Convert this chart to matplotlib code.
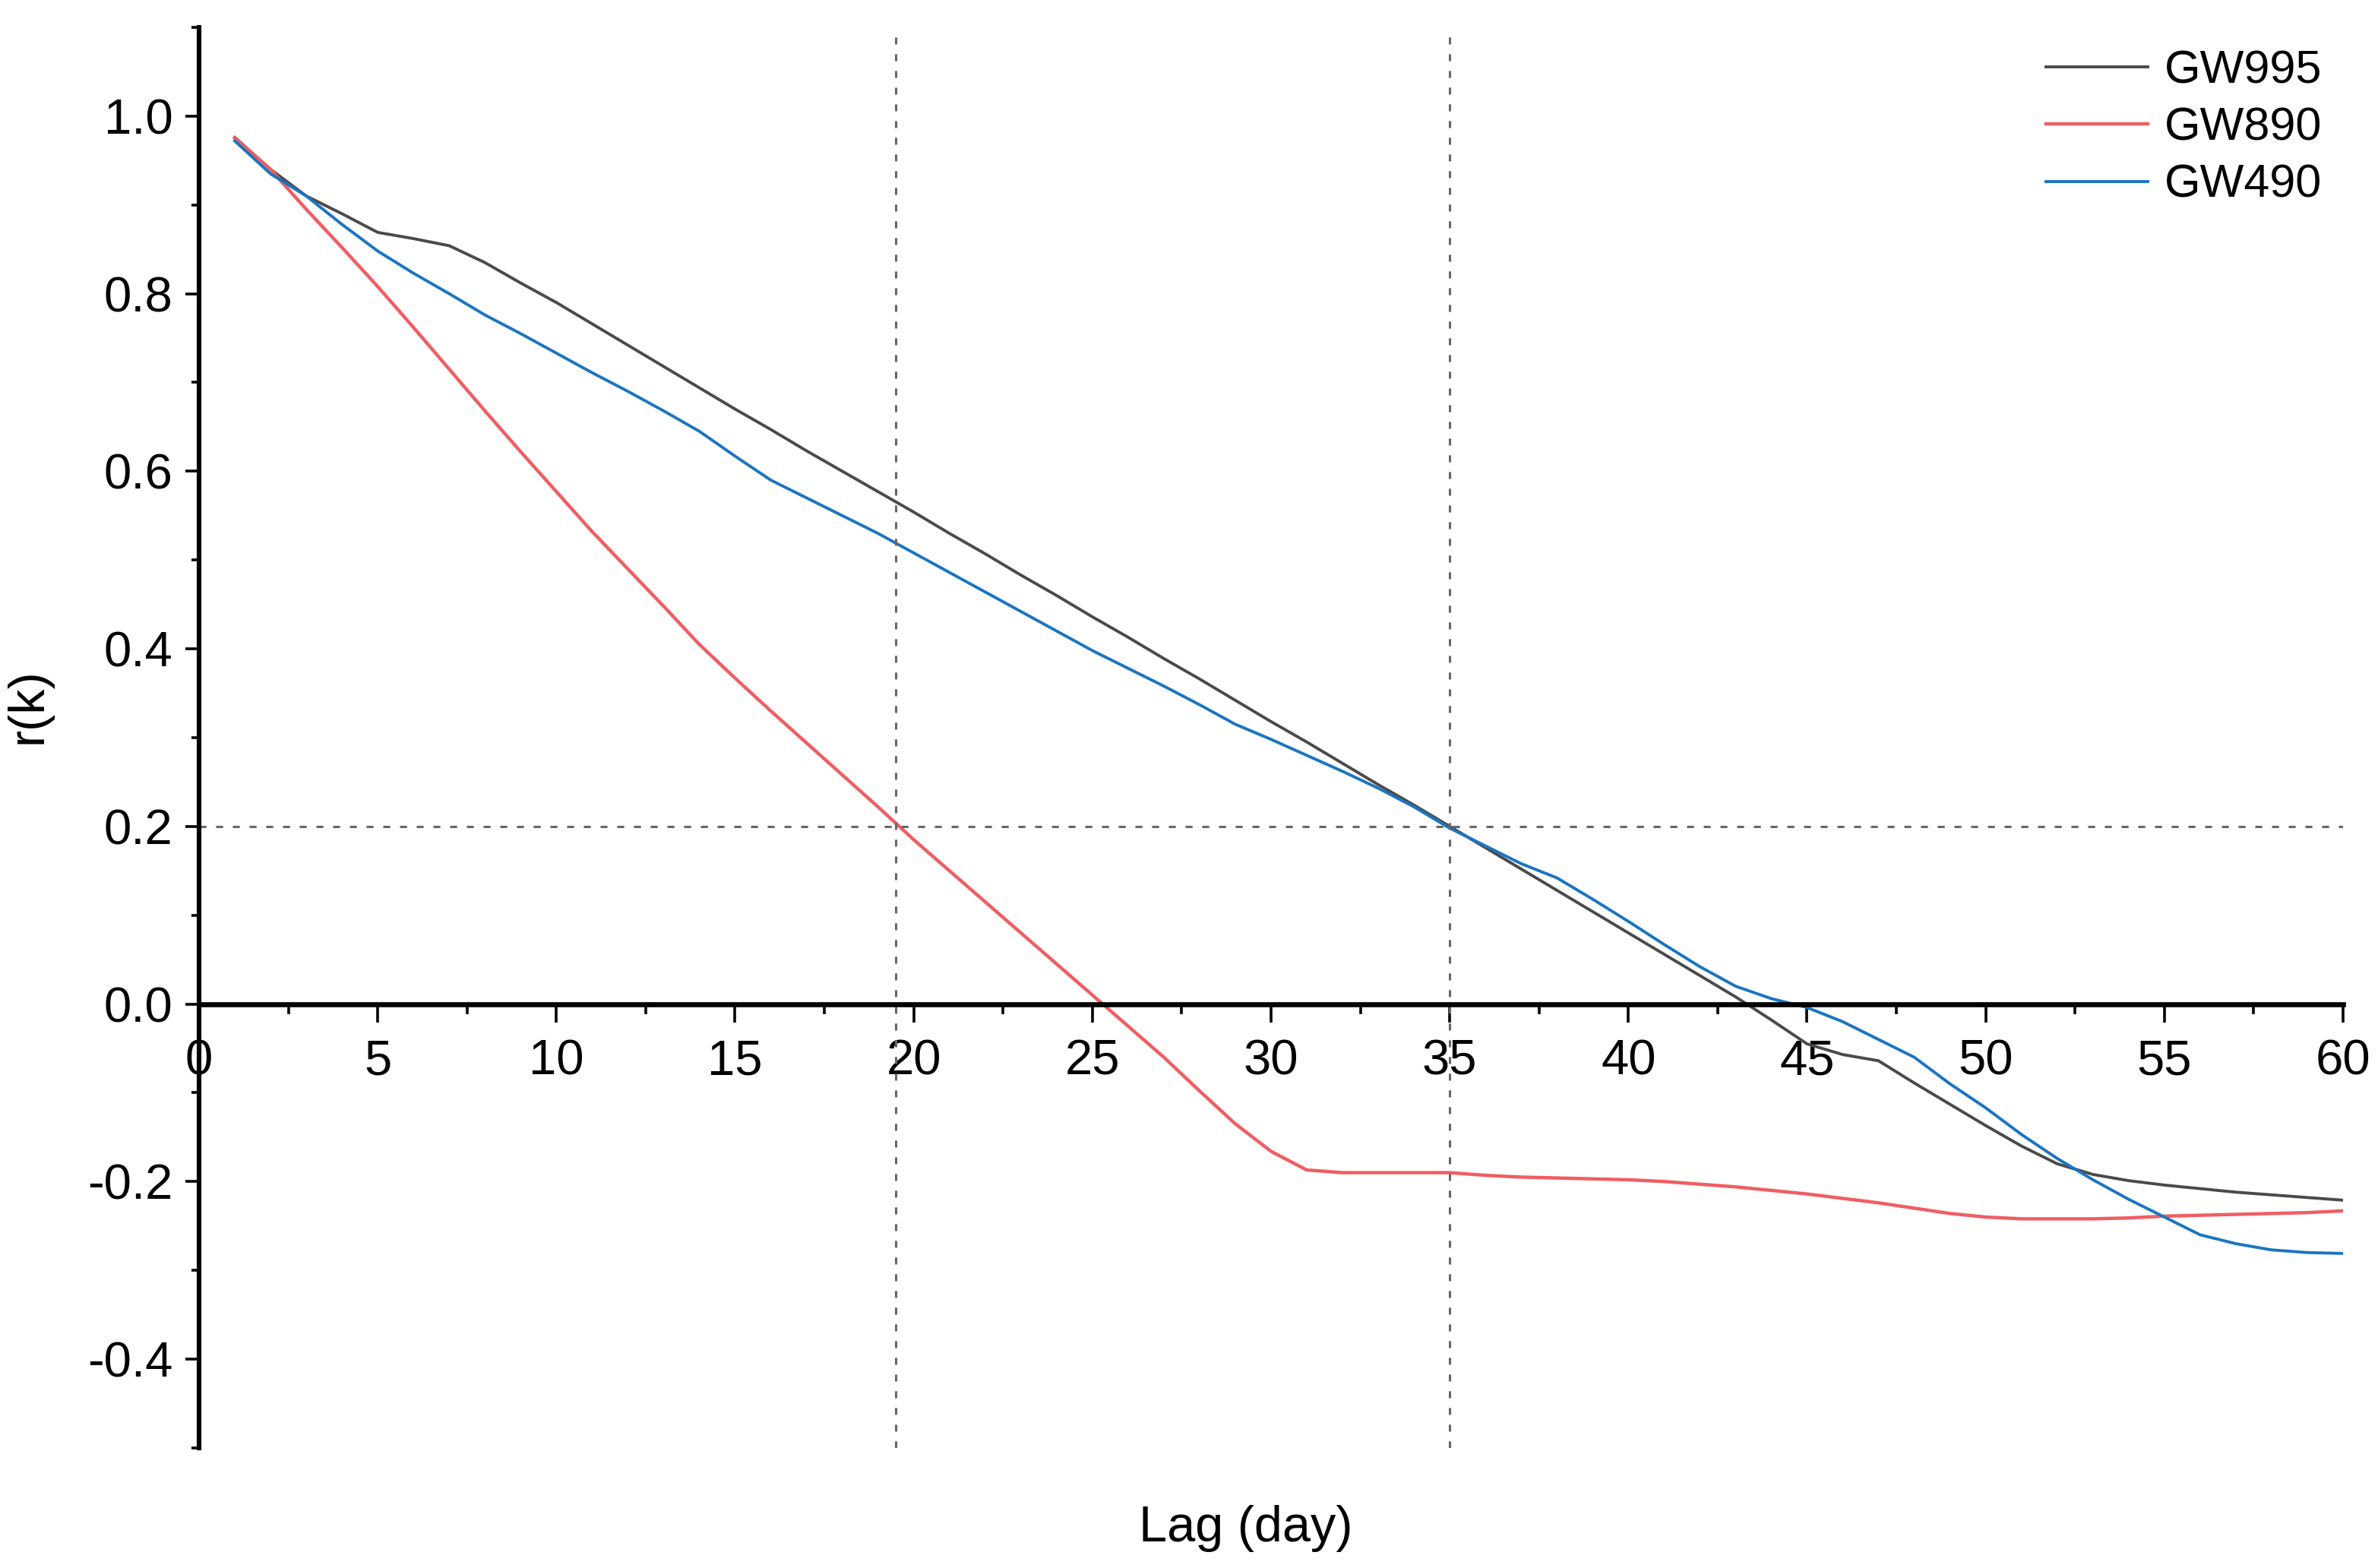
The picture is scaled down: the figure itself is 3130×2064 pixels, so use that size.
import numpy as np
import matplotlib
matplotlib.use("Agg")
import matplotlib.pyplot as plt
from matplotlib.ticker import MultipleLocator

plt.rcParams['font.family'] = ['Liberation Sans', 'DejaVu Sans']
plt.rcParams['axes.unicode_minus'] = False

# lag in days
lag = list(range(1, 61))

gw995 = [0.976, 0.94, 0.91, 0.89, 0.869, 0.862, 0.854, 0.835, 0.812, 0.79,
         0.766, 0.742, 0.718, 0.694, 0.67, 0.647, 0.623, 0.6, 0.577, 0.554,
         0.53, 0.507, 0.483, 0.46, 0.436, 0.413, 0.389, 0.366, 0.342, 0.318,
         0.295, 0.271, 0.247, 0.224, 0.2, 0.176, 0.152, 0.128, 0.104, 0.08,
         0.056, 0.032, 0.008, -0.018, -0.045, -0.057, -0.064, -0.089, -0.113, -0.137,
         -0.16, -0.18, -0.192, -0.199, -0.204, -0.208, -0.212, -0.215, -0.218, -0.221]

gw890 = [0.975, 0.94, 0.895, 0.852, 0.808, 0.762, 0.715, 0.668, 0.622, 0.577,
         0.532, 0.49, 0.448, 0.405, 0.367, 0.33, 0.294, 0.258, 0.222, 0.185,
         0.15, 0.115, 0.08, 0.045, 0.01, -0.025, -0.06, -0.098, -0.135, -0.166,
         -0.187, -0.19, -0.19, -0.19, -0.19, -0.193, -0.195, -0.196, -0.197, -0.198,
         -0.2, -0.203, -0.206, -0.21, -0.214, -0.219, -0.224, -0.23, -0.236, -0.24,
         -0.242, -0.242, -0.242, -0.241, -0.239, -0.238, -0.237, -0.236, -0.235, -0.233]

gw490 = [0.972, 0.935, 0.91, 0.878, 0.848, 0.823, 0.8, 0.776, 0.755, 0.733,
         0.711, 0.69, 0.668, 0.645, 0.617, 0.59, 0.57, 0.55, 0.53, 0.508,
         0.486, 0.464, 0.442, 0.42, 0.398, 0.378, 0.358, 0.337, 0.315, 0.298,
         0.28, 0.262, 0.243, 0.222, 0.198, 0.178, 0.158, 0.142, 0.118, 0.093,
         0.067, 0.042, 0.02, 0.006, -0.004, -0.02, -0.04, -0.06, -0.09, -0.117,
         -0.147, -0.174, -0.198, -0.22, -0.24, -0.26, -0.27, -0.277, -0.28, -0.281]

series_names = ['GW995', 'GW890', 'GW490']
series_colors = ['#4a4a4a', '#ef5e63', '#1a75c2']
series_widths = [1.4, 1.6, 1.4]

ref_lags = [19.5, 35]
ref_r = 0.2

fig = plt.figure(figsize=(15.65, 10.32), dpi=200)
ax = fig.add_axes([0.0837, 0.0766, 0.9016, 0.906])

for vals, name, col, w in zip([gw995, gw890, gw490], series_names, series_colors, series_widths):
    ax.plot(lag, vals, color=col, lw=w, label=name)

dash = dict(color='#666666', lw=1.1, dashes=(3, 4.2))
for xv in ref_lags:
    ax.axvline(xv, **dash)
ax.axhline(ref_r, **dash)

ax.set_xlim(0, 60)
ax.set_ylim(-0.5, 1.1)

ax.spines['top'].set_visible(False)
ax.spines['right'].set_visible(False)
ax.spines['bottom'].set_position(('data', 0))
ax.spines['left'].set_linewidth(2.2)
ax.spines['bottom'].set_linewidth(2.4)

ax.xaxis.set_major_locator(MultipleLocator(5))
ax.xaxis.set_minor_locator(MultipleLocator(2.5))
ax.yaxis.set_major_locator(MultipleLocator(0.2))
ax.yaxis.set_minor_locator(MultipleLocator(0.1))
ax.yaxis.set_major_formatter(plt.FormatStrFormatter('%.1f'))
ax.set_yticks([-0.4, -0.2, 0.0, 0.2, 0.4, 0.6, 0.8, 1.0])

ax.tick_params(axis='x', which='major', direction='out', length=8.5, width=1.3, labelsize=23.5, pad=8)
ax.tick_params(axis='x', which='minor', direction='out', length=4.5, width=1.3)
ax.tick_params(axis='y', which='major', direction='out', length=6.5, width=1.3, labelsize=23.5, pad=6)
ax.tick_params(axis='y', which='minor', direction='out', length=3.5, width=1.3)

fig.text(0.524, 0.025, 'Lag (day)', fontsize=24, ha='center', va='center')
fig.text(0.012, 0.55, 'r(k)', fontsize=24, ha='center', va='center', rotation=90)

ax.legend(loc='upper right', bbox_to_anchor=(0.994, 0.995), bbox_transform=fig.transFigure,
          frameon=False, fontsize=22, handlelength=2.2, labelspacing=0.3, handletextpad=0.35)

fig.savefig('out.png', dpi=200)
